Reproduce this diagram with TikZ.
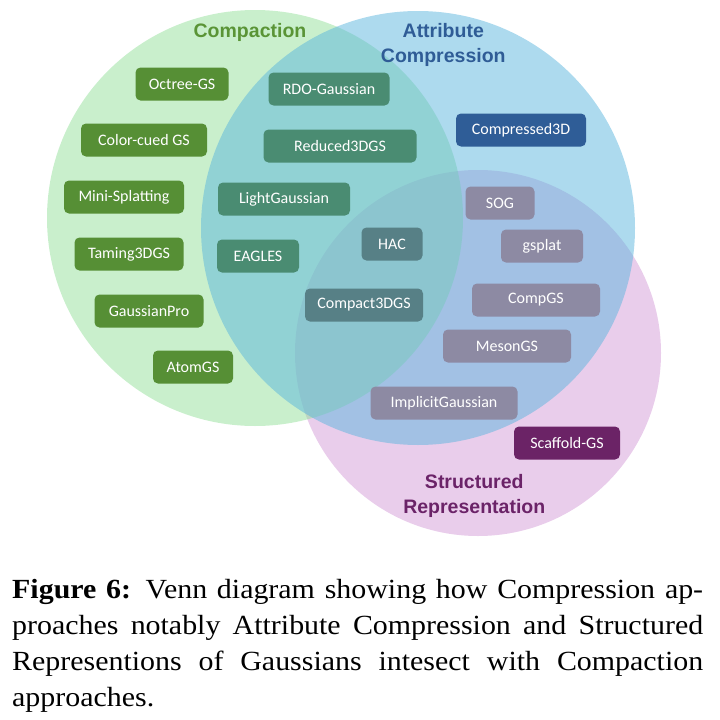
\documentclass[tikz,border=0pt]{standalone}
\usepackage{fontspec}
\setmainfont{Liberation Serif}[FakeStretch=1.08]
\newfontfamily\labelfont{Carlito}
\newfontfamily\headfont{Liberation Sans}
\usepackage{tikz}
\usetikzlibrary{positioning}
\definecolor{setGreen}{RGB}{147,224,154}
\definecolor{setBlue}{RGB}{91,181,221}
\definecolor{setPink}{RGB}{211,155,215}
\definecolor{boxGreen}{RGB}{86,143,53}
\definecolor{boxTeal}{RGB}{74,140,114}
\definecolor{boxBlue}{RGB}{47,93,151}
\definecolor{boxLilac}{RGB}{141,138,163}
\definecolor{boxTriple}{RGB}{87,128,134}
\definecolor{boxPurple}{RGB}{107,35,102}
\definecolor{headGreen}{RGB}{90,148,54}
\definecolor{headBlue}{RGB}{47,92,150}
\definecolor{headPurple}{RGB}{107,35,104}
\tikzset{
	method/.style={
		rectangle,
		rounded corners=5pt,
		draw=none,
		text=white,
		minimum height=33pt,
		inner xsep=2pt,
		text centered,
		font=\labelfont\fontsize{16}{18}\selectfont,
	},
	heading/.style={
		font=\headfont\bfseries\fontsize{19.5}{25}\selectfont,
		align=center,
		inner sep=0pt,
	},
	venn/.style={
		fill opacity=0.5,
	},
}
\begin{document}
\begin{tikzpicture}[x=1pt,y=-1pt]
	
	\useasboundingbox (0,0) rectangle (720,720);
	
	% the three sets
	\coordinate (STRUCT) at (478,353);
	\coordinate (COMPACT) at (255,218);
	\coordinate (ATTRIB) at (418,228);
	\fill[venn, fill=setPink] (STRUCT) circle (183pt);
	\fill[venn, fill=setGreen] (COMPACT) circle (208pt);
	\fill[venn, fill=setBlue] (ATTRIB) circle (217pt);
	
	\node[heading, text=headGreen] (HCOMPACT) at (250,32) {Compaction};
	\node[heading, text=headBlue] (HATTRIB) at (446,45)
	{
		\begin{tabular}{c}
		Attribute\\
		Compression
		\end{tabular}
	};
	\node[heading, text=headPurple] (HSTRUCT) at (477,496)
	{
		\begin{tabular}{c}
		Structured\\
		Representation
		\end{tabular}
	};
	
	% compaction only
	\node[method, fill=boxGreen, minimum width=93pt] (OCTREE) at (182,84) {Octree-GS};
	\node[method, fill=boxGreen, minimum width=126pt] (COLORCUED) at (144,140) {Color-cued GS};
	\node[method, fill=boxGreen, minimum width=120pt] (MINISPLAT) at (124,197) {Mini-Splatting};
	\node[method, fill=boxGreen, minimum width=109pt] (TAMING) at (129,254) {Taming3DGS};
	\node[method, fill=boxGreen, minimum width=109pt] (GPRO) at (149,311) {GaussianPro};
	\node[method, fill=boxGreen, minimum width=80pt] (ATOM) at (193,367) {AtomGS};
	
	% compaction and attribute compression
	\node[method, fill=boxTeal, minimum width=121pt] (RDO) at (329,89) {RDO-Gaussian};
	\node[method, fill=boxTeal, minimum width=153pt] (REDUCED) at (340,146) {Reduced3DGS};
	\node[method, fill=boxTeal, minimum width=132pt] (LIGHT) at (284,199) {LightGaussian};
	\node[method, fill=boxTeal, minimum width=82pt] (EAGLES) at (258,256) {EAGLES};
	
	% attribute compression only
	\node[method, fill=boxBlue, minimum width=130pt] (COMP3D) at (521,130) {Compressed3D};
	
	% all three
	\node[method, fill=boxTriple, minimum width=61pt] (HAC) at (392,244) {HAC};
	\node[method, fill=boxTriple, minimum width=118pt] (COMPACT3D) at (364,305) {Compact3DGS};
	
	% attribute compression and structured representation
	\node[method, fill=boxLilac, minimum width=69pt] (SOG) at (500,203) {SOG};
	\node[method, fill=boxLilac, minimum width=82pt] (GSPLAT) at (542,246) {gsplat};
	\node[method, fill=boxLilac, minimum width=128pt] (COMPGS) at (536,300) {CompGS};
	\node[method, fill=boxLilac, minimum width=128pt] (MESON) at (507,346) {MesonGS};
	\node[method, fill=boxLilac, minimum width=147pt] (IMPLICIT) at (444,403) {ImplicitGaussian};
	
	% structured representation only
	\node[method, fill=boxPurple, minimum width=106pt] (SCAFFOLD) at (567,443) {Scaffold-GS};
	
	\node[anchor=north west, text width=691pt, align=justify, inner sep=0pt,
	font=\fontsize{27.7}{36}\selectfont] (CAPTION) at (12,579)
	{\textbf{Figure 6:} Venn diagram showing how Compression ap-\linebreak proaches notably Attribute Compression and Structured\linebreak Representions of Gaussians intesect with Compaction\linebreak approaches.};
	
\end{tikzpicture}
\end{document}
